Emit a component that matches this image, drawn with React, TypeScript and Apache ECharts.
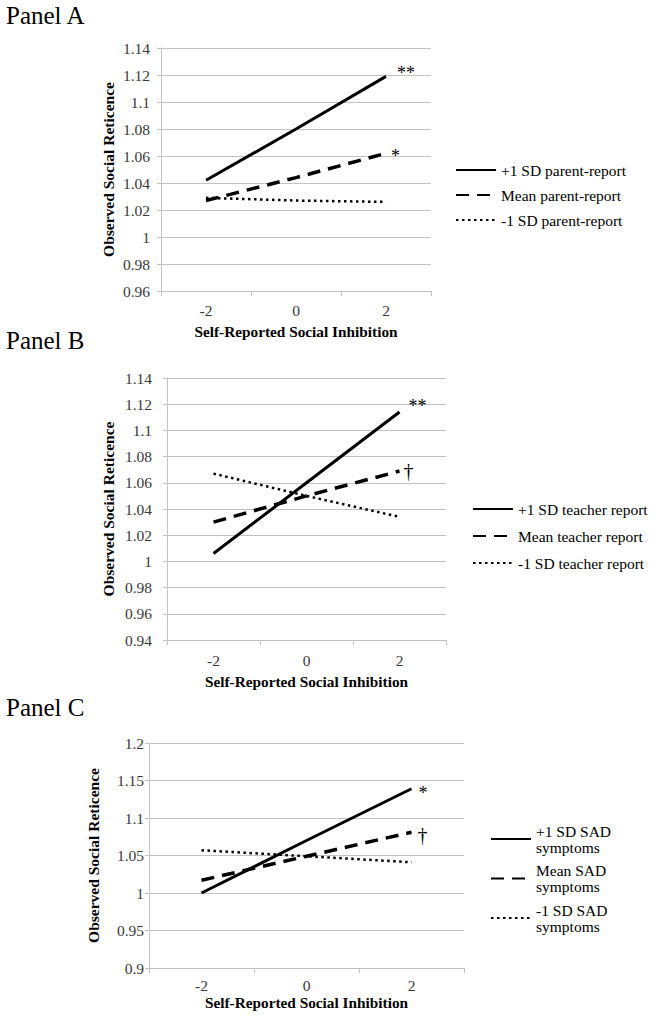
import React, { useEffect, useRef } from 'react';
import * as echarts from 'echarts';

// ---------- data ----------
const xCategories = ['-2', '0', '2'];

const panelANames = ['+1 SD parent-report', 'Mean parent-report', '-1 SD parent-report'];
const panelAPlus = [1.042, 1.080, 1.119];
const panelAMean = [1.027, 1.044, 1.062];
const panelAMinus = [1.029, 1.027, 1.026];
const panelAMarks = ['**', '*', ''];

const panelBNames = ['+1 SD teacher report', 'Mean teacher report', '-1 SD teacher report'];
const panelBPlus = [1.006, 1.060, 1.114];
const panelBMean = [1.030, 1.050, 1.069];
const panelBMinus = [1.067, 1.050, 1.034];
const panelBMarks = ['**', '\u2020', ''];

const panelCNames = ['+1 SD SAD symptoms', 'Mean SAD symptoms', '-1 SD SAD symptoms'];
const panelCPlus = [1.000, 1.070, 1.139];
const panelCMean = [1.017, 1.049, 1.081];
const panelCMinus = [1.057, 1.049, 1.041];
const panelCMarks = ['*', '\u2020', ''];

const yTicksA = { min: 0.96, max: 1.14, interval: 0.02 };
const yTicksB = { min: 0.94, max: 1.14, interval: 0.02 };
const yTicksC = { min: 0.9, max: 1.2, interval: 0.05 };

const panelTitles = ['Panel A', 'Panel B', 'Panel C'];
const xTitle = 'Self-Reported Social Inhibition';
const yTitle = 'Observed Social Reticence';

// ---------- styles ----------
const FONT = 'Liberation Serif';
const GRID_COLOR = '#c3c3c3';
const LABEL_COLOR = '#3a3a3a';

const lineStyles = [
  { color: '#000', width: 3, type: 'solid' as const },
  { color: '#000', width: 3.5, type: [13, 8] as any },
  { color: '#000', width: 2.5, type: [2.5, 3.5] as any },
];

export default function App() {
  const ref = useRef<HTMLDivElement>(null);

  useEffect(() => {
    if (!ref.current) return;
    const chart = echarts.init(ref.current, undefined, { renderer: 'svg' });

    const grids = [
      { left: 161, top: 48, width: 270, height: 243 },
      { left: 167, top: 378, width: 279, height: 262 },
      { left: 149, top: 743, width: 315, height: 225 },
    ];
    const yTicks = [yTicksA, yTicksB, yTicksC];
    const xLabelMargin = [11, 12, 9];
    const xNameGap = [33, 34, 27];
    const yLabelMargin = [11, 15, 5];
    const yNameGap = [45, 51, 48];

    const fmt = (v: number) => String(parseFloat(v.toFixed(2)));

    const xAxis = grids.map((_, i) => ({
      type: 'category',
      gridIndex: i,
      data: xCategories,
      boundaryGap: true,
      axisLine: { show: true, lineStyle: { color: GRID_COLOR, width: 1 } },
      axisTick: { show: true, length: 5, lineStyle: { color: GRID_COLOR } },
      axisLabel: { fontFamily: FONT, fontSize: 15.5, color: LABEL_COLOR, margin: xLabelMargin[i] },
      name: xTitle,
      nameLocation: 'middle',
      nameGap: xNameGap[i],
      nameTextStyle: { fontFamily: FONT, fontSize: 15.3, fontWeight: 'bold', color: '#000' },
      splitLine: { show: false },
    }));

    const yAxis = grids.map((_, i) => ({
      type: 'value',
      gridIndex: i,
      min: yTicks[i].min,
      max: yTicks[i].max,
      interval: yTicks[i].interval,
      axisLine: { show: true, lineStyle: { color: GRID_COLOR, width: 1 } },
      axisTick: { show: true, length: 4, lineStyle: { color: GRID_COLOR } },
      axisLabel: { fontFamily: FONT, fontSize: 15.5, color: LABEL_COLOR, margin: yLabelMargin[i], formatter: fmt },
      splitLine: { show: true, lineStyle: { color: GRID_COLOR, width: 1 } },
      name: yTitle,
      nameLocation: 'middle',
      nameRotate: 90,
      nameGap: yNameGap[i],
      nameTextStyle: { fontFamily: FONT, fontSize: 15.5, fontWeight: 'bold', color: '#000' },
    }));

    const panels = [
      { names: panelANames, data: [panelAPlus, panelAMean, panelAMinus], marks: panelAMarks },
      { names: panelBNames, data: [panelBPlus, panelBMean, panelBMinus], marks: panelBMarks },
      { names: panelCNames, data: [panelCPlus, panelCMean, panelCMinus], marks: panelCMarks },
    ];

    // offsets for significance marks [panel][series]
    const markOffsets = [
      [[6, -3], [0, 3]],
      [[4, -6], [-1, 0]],
      [[2, 4], [1, 3]],
    ];
    const markSizes = [
      [18, 18],
      [18, 20],
      [18, 20],
    ];

    const series: any[] = [];
    panels.forEach((p, pi) => {
      p.names.forEach((name, si) => {
        const mark = p.marks[si];
        series.push({
          type: 'line',
          name,
          xAxisIndex: pi,
          yAxisIndex: pi,
          data: p.data[si],
          symbol: 'none',
          silent: true,
          color: '#000',
          itemStyle: { color: '#000' },
          lineStyle: lineStyles[si],
          endLabel: mark
            ? {
                show: true,
                formatter: mark,
                distance: 5,
                offset: markOffsets[pi][si],
                fontFamily: FONT,
                fontSize: markSizes[pi][si],
                color: '#000',
              }
            : { show: false },
        });
      });
    });

    const legendBase = {
      orient: 'vertical',
      itemWidth: 40,
      itemHeight: 10,
      padding: 0,
      selectedMode: false,
      itemStyle: { opacity: 0, borderWidth: 0 },
      textStyle: { fontFamily: FONT, fontSize: 15.5, color: '#000', lineHeight: 17 },
    };

    const legend = [
      { ...legendBase, left: 455, top: 161.5, itemGap: 8, data: panelANames },
      { ...legendBase, left: 472, top: 500.5, itemGap: 10, data: panelBNames },
      {
        ...legendBase,
        left: 490,
        top: 815,
        itemGap: -8.5,
        data: panelCNames,
        formatter: (n: string) => n.replace(/ symptoms$/, '\nsymptoms'),
        textStyle: { fontFamily: FONT, fontSize: 15.5, color: '#000', lineHeight: 16, padding: [16, 0, 0, 0] },
      },
    ];

    const panelLabelY = [15, 340, 707];
    const graphic = panelTitles.map((t, i) => ({
      type: 'text',
      left: 6,
      top: panelLabelY[i] - 12.5,
      style: { text: t, font: `25px ${FONT}`, fill: '#000' },
    }));

    chart.setOption({
      animation: false,
      backgroundColor: '#fff',
      textStyle: { fontFamily: FONT },
      grid: grids,
      xAxis,
      yAxis,
      series,
      legend,
      graphic,
    });

    return () => chart.dispose();
  }, []);

  return (
    <div
      ref={ref}
      style={{ position: 'absolute', left: 0, top: 0, width: 664, height: 1017, background: '#fff', fontFamily: FONT }}
    />
  );
}
